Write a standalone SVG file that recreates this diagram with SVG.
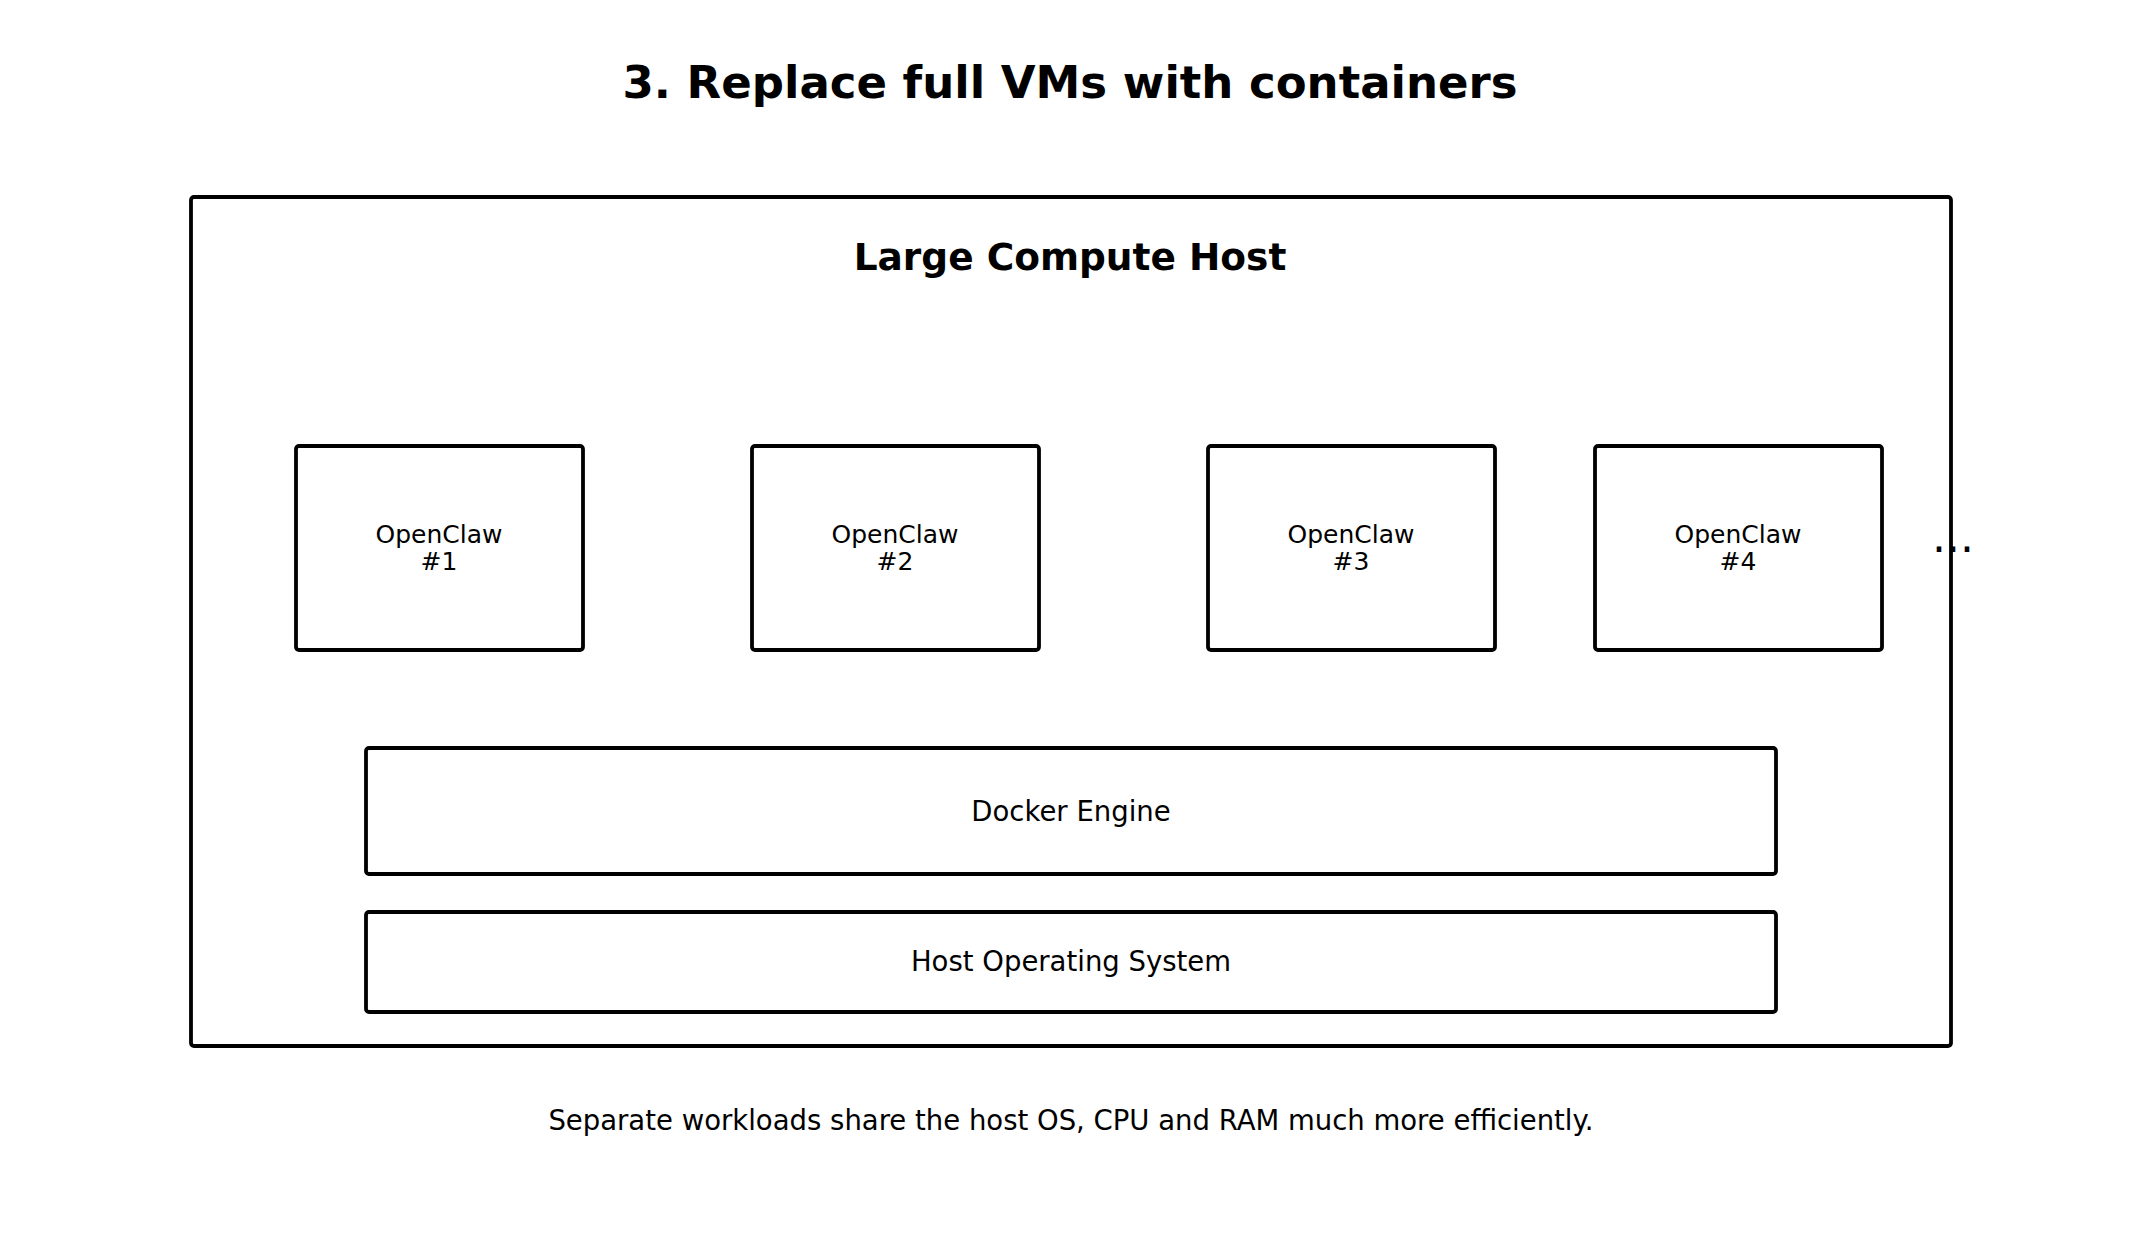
<svg xmlns="http://www.w3.org/2000/svg" width="2141" height="1242" viewBox="0 0 2141 1242">
<style>
text{font-family:"DejaVu Sans",sans-serif;fill:#000;text-anchor:middle;dominant-baseline:central}
.b{fill:#fff;stroke:#000;stroke-width:3.8}
.t{font-size:25px}
.m{font-size:27.5px}
</style>
<rect width="2141" height="1242" fill="#fff"/>
<text x="1070" y="82" font-size="45" font-weight="bold">3. Replace full VMs with containers</text>
<g id="host"><rect class="b" x="191" y="197" width="1760" height="849" rx="3"/>
<text x="1070" y="257" font-size="37.5" font-weight="bold">Large Compute Host</text></g>
<g id="oc1"><rect class="b" x="296" y="446" width="287" height="204" rx="3"/><text class="t" x="439" y="534">OpenClaw</text><text class="t" x="439" y="561">#1</text></g>
<g id="oc2"><rect class="b" x="752" y="446" width="287" height="204" rx="3"/><text class="t" x="895" y="534">OpenClaw</text><text class="t" x="895" y="561">#2</text></g>
<g id="oc3"><rect class="b" x="1208" y="446" width="287" height="204" rx="3"/><text class="t" x="1351" y="534">OpenClaw</text><text class="t" x="1351" y="561">#3</text></g>
<g id="oc4"><rect class="b" x="1595" y="446" width="287" height="204" rx="3"/><text class="t" x="1738" y="534">OpenClaw</text><text class="t" x="1738" y="561">#4</text></g>
<text x="1953" y="536" font-size="44">...</text>
<g id="docker"><rect class="b" x="366" y="748" width="1410" height="126" rx="3"/><text class="m" x="1071" y="811">Docker Engine</text></g>
<g id="os"><rect class="b" x="366" y="912" width="1410" height="100" rx="3"/><text class="m" x="1071" y="961">Host Operating System</text></g>
<g id="connectors"/>
<text class="m" x="1071" y="1120">Separate workloads share the host OS, CPU and RAM much more efficiently.</text>
</svg>
